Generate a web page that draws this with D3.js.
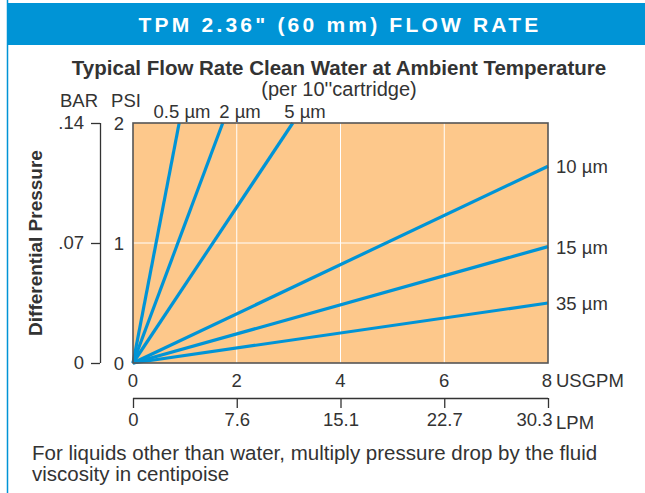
<!DOCTYPE html>
<html>
<head>
<meta charset="utf-8">
<script src="https://cdn.jsdelivr.net/npm/d3@7"></script>
<style>
  body { margin: 0; background: #fff; }
  svg { display: block; font-family: "Liberation Sans", Arial, sans-serif; }
</style>
</head>
<body>
<svg id="chart" width="645" height="493"></svg>
<script>
// ----------------------------
// Data
// ----------------------------
const usgpmTicks = [0, 2, 4, 6, 8];
const lpmTicks = ["0", "7.6", "15.1", "22.7", "30.3"];
const psiTicks = [0, 1, 2];
const barTicks = ["0", ".07", ".14"];

// each rating: flow (USGPM) and pressure (PSI) where the line leaves the plot
const ratings = ["0.5 µm", "2 µm", "5 µm", "10 µm", "15 µm", "35 µm"];
const endFlow = [0.89, 1.73, 3.08, 8, 8, 8];
const endPsi = [2, 2, 2, 1.64, 0.97, 0.5];

// ----------------------------
// Layout
// ----------------------------
const svg = d3.select("#chart");
const blue = "#0094d6";
const ink = "#333";
const fs = 18.5;

const x = d3.scaleLinear().domain([0, 8]).range([133, 548]);
const y = d3.scaleLinear().domain([0, 2]).range([363, 123]);

// frame + header
svg.append("line")
    .attr("x1", 7.5).attr("x2", 7.5)
    .attr("y1", 0).attr("y2", 493)
    .attr("stroke", blue).attr("stroke-width", 1.5);

svg.append("rect")
    .attr("x", 7).attr("y", 3)
    .attr("width", 638).attr("height", 42)
    .attr("fill", blue);

svg.append("text")
    .attr("x", 340).attr("y", 31.5)
    .attr("text-anchor", "middle")
    .attr("fill", "#fff")
    .attr("font-size", 21)
    .attr("font-weight", "bold")
    .attr("letter-spacing", 3.2)
    .text('TPM 2.36" (60 mm) FLOW RATE');

// titles
svg.append("text")
    .attr("x", 339).attr("y", 75)
    .attr("text-anchor", "middle")
    .attr("fill", ink)
    .attr("font-size", 20.5)
    .attr("font-weight", "bold")
    .text("Typical Flow Rate Clean Water at Ambient Temperature");

svg.append("text")
    .attr("x", 339).attr("y", 96)
    .attr("text-anchor", "middle")
    .attr("fill", ink)
    .attr("font-size", 20)
    .text("(per 10''cartridge)");

// plot background
svg.append("rect")
    .attr("x", x(0)).attr("y", y(2))
    .attr("width", x(8) - x(0)).attr("height", y(0) - y(2))
    .attr("fill", "#fdc88b");

// grid lines
svg.append("g").selectAll("line")
    .data(usgpmTicks.slice(1, -1))
    .join("line")
    .attr("x1", d => x(d)).attr("x2", d => x(d))
    .attr("y1", y(0)).attr("y2", y(2))
    .attr("stroke", "#fff").attr("stroke-width", 1);

svg.append("g").selectAll("line")
    .data(psiTicks.slice(1, -1))
    .join("line")
    .attr("x1", x(0)).attr("x2", x(8))
    .attr("y1", d => y(d)).attr("y2", d => y(d))
    .attr("stroke", "#fff").attr("stroke-width", 1);

// flow lines
const lineGen = d3.line().x(d => x(d[0])).y(d => y(d[1]));
svg.append("g").selectAll("path")
    .data(ratings.map((r, i) => [[0, 0], [endFlow[i], endPsi[i]]]))
    .join("path")
    .attr("d", lineGen)
    .attr("fill", "none")
    .attr("stroke", blue)
    .attr("stroke-width", 3.2)
    .attr("stroke-linecap", "butt");

// plot border
svg.append("rect")
    .attr("x", x(0)).attr("y", y(2))
    .attr("width", x(8) - x(0)).attr("height", y(0) - y(2))
    .attr("fill", "none")
    .attr("stroke", "#555").attr("stroke-width", 1.6);

// rating labels
const topLabelX = [182, 240, 305];
svg.append("g").selectAll("text")
    .data(ratings.slice(0, 3))
    .join("text")
    .attr("x", (d, i) => topLabelX[i]).attr("y", 118)
    .attr("text-anchor", "middle")
    .attr("fill", ink).attr("font-size", fs)
    .text(d => d);

svg.append("g").selectAll("text")
    .data(ratings.slice(3))
    .join("text")
    .attr("x", 556).attr("y", (d, i) => y(endPsi[i + 3]) + 7)
    .attr("fill", ink).attr("font-size", fs)
    .text(d => d);

// PSI labels
svg.append("g").selectAll("text")
    .data(psiTicks)
    .join("text")
    .attr("x", 119).attr("y", d => y(d) + 7)
    .attr("text-anchor", "middle")
    .attr("fill", ink).attr("font-size", fs)
    .text(d => d);

// BAR axis
const barAxis = d3.axisLeft(y).tickValues(psiTicks)
    .tickFormat((d, i) => barTicks[i]).tickSize(9).tickSizeOuter(0).tickPadding(7);
const gBar = svg.append("g").attr("transform", "translate(100,0)").call(barAxis);
gBar.select(".domain").attr("stroke", ink).attr("stroke-width", 1.3)
    .attr("d", `M0.5,${y(2)}V${y(0)}`);
gBar.selectAll(".tick line").attr("stroke", ink).attr("stroke-width", 1.3);
gBar.selectAll(".tick text").attr("fill", ink).attr("font-size", fs)
    .attr("font-family", "Liberation Sans, Arial, sans-serif");

svg.append("text").attr("x", 98).attr("y", 107).attr("text-anchor", "end")
    .attr("fill", ink).attr("font-size", fs).text("BAR");
svg.append("text").attr("x", 126).attr("y", 107).attr("text-anchor", "middle")
    .attr("fill", ink).attr("font-size", fs).text("PSI");

svg.append("text")
    .attr("transform", `translate(42,${y(1)}) rotate(-90)`)
    .attr("text-anchor", "middle")
    .attr("fill", ink).attr("font-size", 19)
    .attr("font-weight", "bold")
    .text("Differential Pressure");

// USGPM labels
svg.append("g").selectAll("text")
    .data(usgpmTicks)
    .join("text")
    .attr("x", (d, i) => x(d) + (i === usgpmTicks.length - 1 ? 4 : 0)).attr("y", 387)
    .attr("text-anchor", (d, i) => i === usgpmTicks.length - 1 ? "end" : "middle")
    .attr("fill", ink).attr("font-size", fs)
    .text(d => d);
svg.append("text").attr("x", 556).attr("y", 387)
    .attr("fill", ink).attr("font-size", fs).text("USGPM");

// LPM axis (same positions as USGPM ticks)
const lpmAxis = d3.axisBottom(x).tickValues(usgpmTicks)
    .tickFormat((d, i) => lpmTicks[i]).tickSize(10).tickSizeOuter(0).tickPadding(5);
const gLpm = svg.append("g").attr("transform", "translate(0,398)").call(lpmAxis);
gLpm.select(".domain").attr("stroke", ink).attr("stroke-width", 1.3)
    .attr("d", `M${x(0)},0.5H${x(8)}`);
gLpm.selectAll(".tick line").attr("stroke", ink).attr("stroke-width", 1.3);
gLpm.selectAll(".tick text").attr("fill", ink).attr("font-size", fs)
    .attr("font-family", "Liberation Sans, Arial, sans-serif");
gLpm.selectAll(".tick text").filter((d, i) => i === lpmTicks.length - 1)
    .attr("text-anchor", "end").attr("x", 4);
svg.append("text").attr("x", 556).attr("y", 429)
    .attr("fill", ink).attr("font-size", fs).text("LPM");

// footnote
svg.append("text").attr("x", 32).attr("y", 460)
    .attr("fill", ink).attr("font-size", 20.5)
    .text("For liquids other than water, multiply pressure drop by the fluid");
svg.append("text").attr("x", 32).attr("y", 481)
    .attr("fill", ink).attr("font-size", 20.5)
    .text("viscosity in centipoise");
</script>
</body>
</html>
